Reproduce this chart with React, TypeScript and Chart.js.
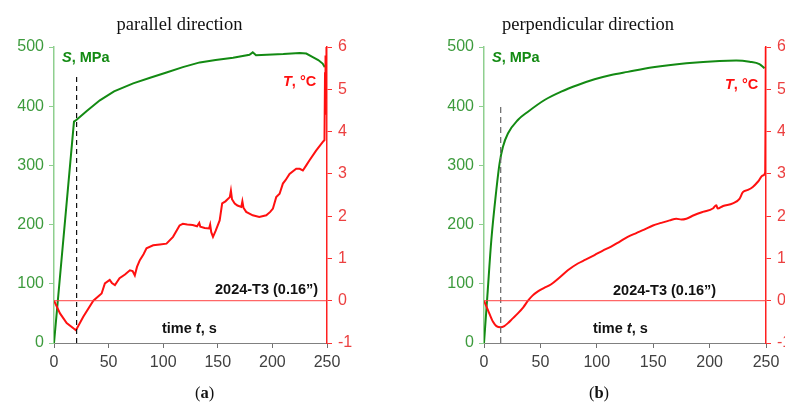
import React, { useEffect, useRef } from "react";
import { Chart, registerables } from "chart.js";
Chart.register(...registerables);

// ---------- Panel (a): parallel direction ----------
const tStressA = [0, 18.3, 20.7, 30, 42, 55, 72.5, 88, 103, 118, 133.5, 148, 164, 179, 182, 185, 195, 210, 225, 231, 237, 242, 246, 248];
const stressA = [0, 374, 377, 392, 410, 425, 438.6, 448, 457, 466, 474, 478, 482, 487, 491, 486, 487, 488, 490, 489, 483, 478, 472, 466];

const tTempA = [0, 5.5, 11.6, 20.1, 26.8, 36, 43.6, 46.6, 51, 53, 55.8, 60, 65, 69.5, 72, 74, 76, 78.6, 82, 84.7, 90.8, 97, 103, 109, 115, 118, 122, 127, 131, 133, 134, 138, 142, 143, 144, 145.6, 148, 151.7, 154, 157, 161, 162, 163, 165.5, 168, 171.5, 172.5, 173.5, 176, 182, 188, 194.4, 198, 200.5, 203.5, 206.6, 209.6, 212, 215.7, 221.8, 225, 227.9, 231, 234, 240, 246, 247.7, 248.2, 248.5, 248.8, 249.1, 249.5];
const tempA = [0, -0.3, -0.53, -0.7, -0.38, 0, 0.17, 0.41, 0.49, 0.42, 0.37, 0.53, 0.62, 0.72, 0.7, 0.6, 0.8, 0.96, 1.1, 1.24, 1.31, 1.33, 1.35, 1.51, 1.78, 1.82, 1.8, 1.79, 1.76, 1.84, 1.75, 1.72, 1.71, 1.8, 1.62, 1.51, 1.65, 1.9, 2.3, 2.35, 2.45, 2.6, 2.4, 2.3, 2.25, 2.22, 2.35, 2.2, 2.1, 2.02, 1.98, 2.02, 2.1, 2.18, 2.45, 2.53, 2.77, 2.85, 3.0, 3.12, 3.12, 3.08, 3.2, 3.32, 3.55, 3.75, 3.8, 5.4, 4.4, 5.8, 4.8, 6];

const yieldTimeA = 20.7;
const yieldLineTopA = 451;

// ---------- Panel (b): perpendicular direction ----------
const tStressB = [0, 3, 6.5, 10.9, 13.8, 16.8, 21.2, 30, 39, 53.7, 68.4, 83.2, 98, 112.7, 127.4, 149.8, 179.4, 208.8, 223.6, 235.4, 244.2, 248.7];
const stressB = [0, 80, 174, 258, 303.5, 331.6, 354, 376.7, 390.7, 410.5, 424.5, 435.8, 445.4, 452.7, 458, 465.7, 472.4, 476.4, 477, 475, 471, 464];

const tTempB = [0, 3.5, 8, 11, 14.8, 18, 21.2, 25, 30, 35, 39, 43, 47.8, 53, 59.6, 67, 74.3, 83.2, 90, 98, 105, 112.7, 120.4, 127.4, 135, 142, 149.8, 157, 164.6, 170.5, 175, 179.4, 186, 194, 202.9, 206, 207, 212, 220.6, 226.5, 229.5, 234, 238.3, 243, 247.2, 249.3, 249.6, 249.8];
const tempB = [0, -0.22, -0.5, -0.6, -0.63, -0.6, -0.53, -0.43, -0.3, -0.15, 0, 0.12, 0.22, 0.3, 0.39, 0.55, 0.72, 0.88, 0.97, 1.08, 1.18, 1.28, 1.4, 1.51, 1.6, 1.68, 1.78, 1.84, 1.9, 1.94, 1.92, 1.94, 2.02, 2.1, 2.18, 2.26, 2.18, 2.24, 2.3, 2.41, 2.57, 2.62, 2.69, 2.82, 2.96, 3.04, 4.5, 6];

const yieldTimeB = 14.8;
const yieldLineTopB = 400;

// ---------- Axes ----------
const timeRange = [0, 250];
const stressRange = [0, 500];
const tempRange = [-1, 6];

const GREEN = "#138a13";
const RED = "#ff1010";
const SANS = '"Liberation Sans", Arial, sans-serif';

type Part = { text: string; italic?: boolean };
type Note = { x: number; y: number; color: string; parts: Part[] };

const pts = (xs: number[], ys: number[]) => xs.map((x, i) => ({ x, y: ys[i] }));

function makeConfig(
  tS: number[], S: number[], tT: number[], T: number[],
  yieldT: number, yieldTop: number, dashColor: string, dash: number[],
  smooth: boolean, leftW: number, rightW: number, notes: Note[]
): any {
  const notePlugin = {
    id: "notes",
    afterDatasetsDraw(chart: any) {
      const ctx = chart.ctx;
      ctx.save();
      ctx.textBaseline = "alphabetic";
      ctx.textAlign = "left";
      for (const n of notes) {
        let cx = n.x;
        for (const p of n.parts) {
          ctx.font = `${p.italic ? "italic " : ""}bold 14.5px ${SANS}`;
          ctx.fillStyle = n.color;
          ctx.fillText(p.text, cx, n.y);
          cx += ctx.measureText(p.text).width;
        }
      }
      ctx.restore();
    },
  };
  return {
    type: "line",
    data: {
      datasets: [
        {
          data: [{ x: timeRange[0], y: 0 }, { x: timeRange[1], y: 0 }],
          yAxisID: "y1", borderColor: "#ff4040", borderWidth: 1, pointRadius: 0,
        },
        {
          data: [{ x: yieldT, y: 0 }, { x: yieldT, y: yieldTop }],
          yAxisID: "y", borderColor: dashColor, borderWidth: 1.2, borderDash: dash, pointRadius: 0,
        },
        {
          data: pts(tT, T), yAxisID: "y1", borderColor: RED, borderWidth: 2, pointRadius: 0,
          cubicInterpolationMode: smooth ? "monotone" : "default", tension: 0,
        },
        {
          data: pts(tS, S), yAxisID: "y", borderColor: GREEN, borderWidth: 2, pointRadius: 0,
          cubicInterpolationMode: smooth ? "monotone" : "default", tension: 0,
        },
      ],
    },
    options: {
      animation: false,
      responsive: false,
      devicePixelRatio: 1,
      parsing: true,
      layout: { padding: { top: 47, bottom: 0, left: 0, right: 0 } },
      plugins: { legend: { display: false }, tooltip: { enabled: false }, title: { display: false } },
      scales: {
        x: {
          type: "linear", min: timeRange[0], max: timeRange[1],
          ticks: { stepSize: 50, color: "#404040", font: { family: SANS, size: 16 }, padding: 5, maxRotation: 0 },
          grid: { drawOnChartArea: false, drawTicks: true, tickLength: 5, color: "#707070" },
          border: { color: "#808080", width: 1 },
          afterFit: (s: any) => { s.height = 60; },
        },
        y: {
          type: "linear", position: "left", min: stressRange[0], max: stressRange[1],
          ticks: { stepSize: 100, color: "#3d9b3d", font: { family: SANS, size: 16 }, padding: 5 },
          grid: { drawOnChartArea: false, drawTicks: true, tickLength: 5, color: "#8fcf8f" },
          border: { color: "#8fcf8f", width: 1.5 },
          afterFit: (s: any) => { s.width = leftW; },
        },
        y1: {
          type: "linear", position: "right", min: tempRange[0], max: tempRange[1],
          ticks: { stepSize: 1, color: "#ec4040", font: { family: SANS, size: 16 }, padding: 6 },
          grid: { drawOnChartArea: false, drawTicks: true, tickLength: 5, color: "#ff3030" },
          border: { color: "#ff2020", width: 1.5 },
          afterFit: (s: any) => { s.width = rightW; },
        },
      },
    },
    plugins: [notePlugin],
  };
}

function Panel({ left, config }: { left: number; config: any }) {
  const ref = useRef<HTMLCanvasElement>(null);
  useEffect(() => {
    const chart = new Chart(ref.current as HTMLCanvasElement, config);
    return () => chart.destroy();
  }, []);
  return (
    <canvas
      ref={ref}
      width={400}
      height={403}
      style={{ position: "absolute", left, top: 0, width: 400, height: 403 }}
    />
  );
}

const notesA: Note[] = [
  { x: 62, y: 61.5, color: GREEN, parts: [{ text: "S", italic: true }, { text: ", MPa" }] },
  { x: 283, y: 86, color: RED, parts: [{ text: "T", italic: true }, { text: ", °C" }] },
  { x: 215, y: 294, color: "#111", parts: [{ text: "2024-T3 (0.16”)" }] },
  { x: 162, y: 333, color: "#111", parts: [{ text: "time " }, { text: "t", italic: true }, { text: ", s" }] },
];
const notesB: Note[] = [
  { x: 92, y: 61.5, color: GREEN, parts: [{ text: "S", italic: true }, { text: ", MPa" }] },
  { x: 325, y: 89, color: RED, parts: [{ text: "T", italic: true }, { text: ", °C" }] },
  { x: 213, y: 295, color: "#111", parts: [{ text: "2024-T3 (0.16”)" }] },
  { x: 193, y: 333, color: "#111", parts: [{ text: "time " }, { text: "t", italic: true }, { text: ", s" }] },
];

const configA = makeConfig(tStressA, stressA, tTempA, tempA, yieldTimeA, yieldLineTopA, "#111", [5, 4], false, 54, 73, notesA);
const configB = makeConfig(tStressB, stressB, tTempB, tempB, yieldTimeB, yieldLineTopB, "#666", [6, 4], true, 84, 34, notesB);

const serif = '"Liberation Serif", "Times New Roman", serif';

export default function App() {
  const titleStyle = (cx: number): React.CSSProperties => ({
    position: "absolute", left: cx, top: 14.5, transform: "translateX(-50%)",
    fontFamily: serif, fontSize: 18.5, lineHeight: "18.5px", color: "#111", whiteSpace: "nowrap",
  });
  const capStyle = (cx: number): React.CSSProperties => ({
    position: "absolute", left: cx, top: 385, transform: "translateX(-50%)",
    fontFamily: serif, fontSize: 16.5, lineHeight: "16.5px", color: "#111", whiteSpace: "nowrap",
  });
  return (
    <div style={{ position: "fixed", left: 0, top: 0, width: 785, height: 403, overflow: "hidden", background: "#fff" }}>
      <Panel left={0} config={configA} />
      <Panel left={400} config={configB} />
      <div style={titleStyle(179.5)}>parallel direction</div>
      <div style={titleStyle(588)}>perpendicular direction</div>
      <div style={capStyle(204.5)}>(<b>a</b>)</div>
      <div style={capStyle(599)}>(<b>b</b>)</div>
    </div>
  );
}
